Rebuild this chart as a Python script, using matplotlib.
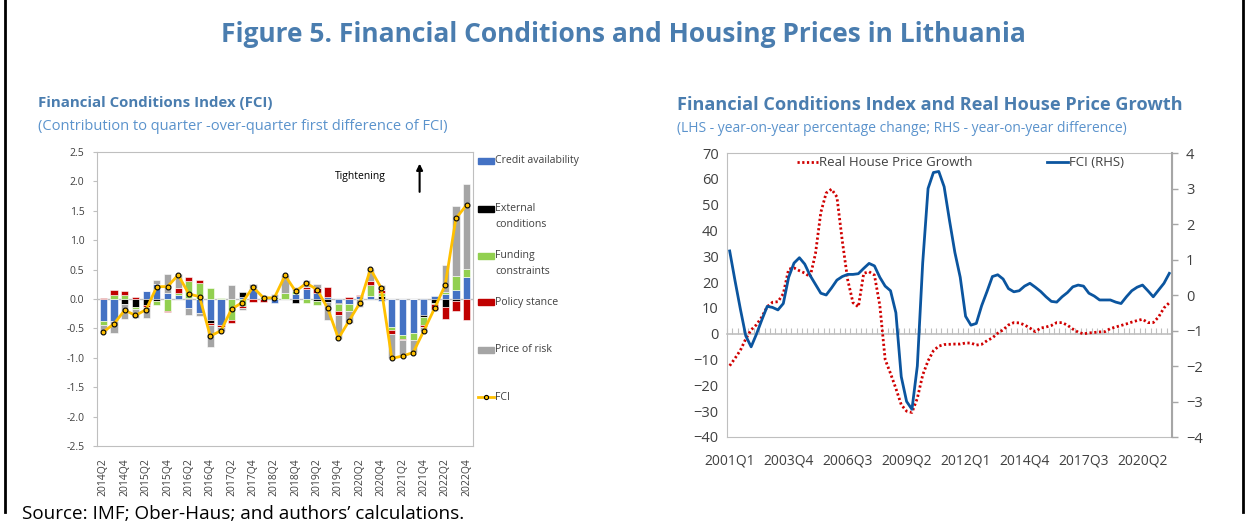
import matplotlib.pyplot as plt
import numpy as np
from matplotlib.lines import Line2D
from matplotlib.patches import Rectangle

plt.rcParams['font.family'] = ['Open Sans', 'DejaVu Sans']

# ---- left panel data: FCI contributions, 2014Q2 - 2022Q4
bar_quarters = [f"{2014 + (i + 1) // 4}Q{(i + 1) % 4 + 1}" for i in range(35)]

credit = [-0.37, -0.37, 0.00, 0.00, 0.14, 0.25, 0.11, 0.06, -0.15, -0.24,
          -0.36, -0.44, 0.00, 0.04, 0.18, 0.00, -0.07, 0.00, 0.09, 0.17,
          0.10, 0.03, -0.06, -0.09, 0.05, 0.05, -0.04, -0.47, -0.61, -0.58,
          -0.28, 0.05, 0.085, 0.16, 0.38]
external = [0.00, 0.00, -0.08, -0.13, -0.10, -0.03, 0.00, 0.00, 0.01, 0.00,
            -0.04, 0.00, 0.00, 0.08, 0.00, 0.00, 0.00, 0.00, -0.07, 0.00,
            -0.03, -0.05, -0.02, 0.00, 0.00, 0.00, 0.05, 0.00, 0.00, 0.00,
            -0.03, -0.06, -0.13, -0.03, 0.00]
funding = [-0.08, 0.07, 0.06, -0.04, 0.00, -0.08, -0.20, 0.05, 0.29, 0.28,
           0.19, 0.01, -0.36, -0.12, 0.00, 0.03, 0.03, 0.11, 0.04, -0.06,
           -0.08, 0.00, -0.12, -0.12, 0.00, 0.19, 0.05, -0.06, -0.07, -0.11,
           -0.13, -0.02, 0.04, 0.23, 0.13]
policy = [0.01, 0.08, 0.08, 0.04, -0.03, 0.00, -0.02, 0.085, 0.07, 0.045,
          -0.045, -0.03, -0.05, -0.03, -0.05, -0.05, 0.00, 0.00, 0.00, 0.04,
          0.085, 0.17, -0.08, 0.04, 0.02, 0.07, 0.06, -0.06, -0.02, 0.00,
          -0.03, -0.10, -0.21, -0.18, -0.35]
risk = [-0.10, -0.21, -0.26, -0.15, -0.19, 0.07, 0.31, 0.23, -0.13, -0.05,
        -0.375, -0.08, 0.23, -0.03, 0.07, 0.04, 0.06, 0.30, 0.08, 0.11,
        0.07, -0.31, -0.40, -0.20, -0.14, 0.20, 0.07, -0.42, -0.29, -0.21,
        -0.07, -0.03, 0.46, 1.19, 1.44]
fci_q = [-0.56, -0.42, -0.19, -0.28, -0.18, 0.21, 0.21, 0.41, 0.085, 0.04,
         -0.63, -0.54, -0.17, -0.06, 0.20, 0.02, 0.02, 0.40, 0.13, 0.27,
         0.16, -0.16, -0.67, -0.37, -0.07, 0.51, 0.19, -1.01, -0.97, -0.91,
         -0.54, -0.16, 0.24, 1.37, 1.60]

components = [("Credit availability", credit, "#4472C4"),
              ("External\nconditions", external, "#000000"),
              ("Funding\nconstraints", funding, "#92D050"),
              ("Policy stance", policy, "#C00000"),
              ("Price of risk", risk, "#A5A5A5")]

# ---- right panel data: 2001Q1 - 2021Q3
line_quarters = [f"{2001 + i // 4}Q{i % 4 + 1}" for i in range(83)]

house_growth = [-12.4, -9.5, -6.4, -2.0, 1.5, 3.5, 6.5, 10.5, 12.2, 12.4,
                15.5, 25.0, 25.5, 24.4, 23.5, 22.0, 31.0, 47.0, 54.5, 56.0,
                53.0, 36.0, 21.0, 12.0, 10.4, 23.4, 24.0, 22.7, 11.0, -10.0,
                -15.4, -21.2, -27.5, -30.0, -30.5, -25.0, -16.0, -10.5, -6.6, -4.8,
                -4.2, -4.1, -4.0, -4.0, -3.6, -3.6, -4.4, -4.1, -2.7, -1.6,
                0.2, 1.5, 3.4, 4.3, 4.2, 3.4, 2.2, 0.8, 2.2, 2.6,
                3.2, 4.3, 4.3, 3.3, 1.8, 0.6, -0.05, 0.3, 0.5, 0.7,
                0.8, 2.0, 2.6, 3.2, 3.8, 4.5, 5.1, 5.6, 4.3, 4.3,
                6.5, 10.0, 12.0]
fci_yoy = [1.24, 0.40, -0.40, -1.15, -1.46, -1.10, -0.70, -0.32, -0.35, -0.42,
           -0.24, 0.50, 0.90, 1.05, 0.87, 0.55, 0.30, 0.05, 0.00, 0.20,
           0.42, 0.52, 0.58, 0.58, 0.60, 0.75, 0.89, 0.82, 0.50, 0.25,
           0.12, -0.50, -2.30, -3.00, -3.22, -2.00, 0.90, 3.00, 3.45, 3.48,
           3.05, 2.10, 1.20, 0.50, -0.60, -0.85, -0.80, -0.30, 0.10, 0.52,
           0.57, 0.45, 0.18, 0.09, 0.12, 0.25, 0.33, 0.22, 0.10, -0.05,
           -0.18, -0.20, -0.05, 0.07, 0.23, 0.28, 0.25, 0.05, -0.03, -0.14,
           -0.14, -0.14, -0.20, -0.24, -0.05, 0.12, 0.22, 0.28, 0.12, -0.05,
           0.14, 0.33, 0.61]

W, H = 1247, 523
fig = plt.figure(figsize=(W / 100, H / 100), dpi=100)
grey = "#BFBFBF"
txt = "#404040"


def fx(px):
    return px / W


def fy(py):
    return 1 - py / H


# frame lines and titles
fig.add_artist(Line2D([fx(5), fx(5)], [fy(0), fy(512)], color="black", lw=2))
fig.add_artist(Line2D([fx(1243), fx(1243)], [fy(0), fy(512)], color="black", lw=2))
fig.text(0.5, fy(35), "Figure 5. Financial Conditions and Housing Prices in Lithuania",
         ha="center", va="center", fontsize=19, fontweight="bold", color="#4A7DAF")
fig.text(fx(38), fy(103), "Financial Conditions Index (FCI)", ha="left", va="center",
         fontsize=10.8, fontweight="bold", color="#4A7DAF")
fig.text(fx(38), fy(126), "(Contribution to quarter -over-quarter first difference of FCI)",
         ha="left", va="center", fontsize=10.5, color="#5B93CC")
fig.text(fx(677), fy(105), "Financial Conditions Index and Real House Price Growth",
         ha="left", va="center", fontsize=13.1, fontweight="bold", color="#4A7DAF")
fig.text(fx(677), fy(128), "(LHS - year-on-year percentage change; RHS - year-on-year difference)",
         ha="left", va="center", fontsize=10, color="#5B93CC")
fig.text(fx(22), fy(514), "Source: IMF; Ober-Haus; and authors\u2019 calculations.",
         ha="left", va="center", fontsize=13.6, color="black")

# ---- left panel
ax = fig.add_axes([fx(97), fy(446), fx(473) - fx(97), fy(152) - fy(446)])
x = np.arange(len(bar_quarters))
pos = np.zeros(len(x))
neg = np.zeros(len(x))
for name, vals, col in components:
    v = np.array(vals)
    bottom = np.where(v >= 0, pos, neg)
    ax.bar(x, v, 0.68, bottom=bottom, color=col, edgecolor="white", linewidth=0.4, zorder=2)
    pos = pos + np.where(v >= 0, v, 0)
    neg = neg + np.where(v < 0, v, 0)
ax.plot(x, fci_q, color="#FFC000", lw=2, marker="o", ms=3.5, mfc="#FFC000",
        mec="black", mew=0.8, zorder=4)
ax.axhline(0, color=grey, lw=1, zorder=1)
ax.set_xlim(-0.6, len(x) - 0.4)
ax.set_ylim(-2.5, 2.5)
ax.set_yticks(np.arange(-2.5, 2.51, 0.5))
ax.set_yticklabels([f"{t:.1f}" for t in np.arange(-2.5, 2.51, 0.5)])
ax.set_xticks(x[::2])
ax.set_xticklabels(bar_quarters[::2], rotation=90)
ax.tick_params(axis="y", labelsize=7.5, colors=txt, length=3, color=grey, pad=6)
ax.tick_params(axis="x", labelsize=7.5, colors=txt, length=0, pad=9)
for s in ax.spines.values():
    s.set_color(grey)

ax.text(0.70, 0.915, "Tightening", transform=ax.transAxes, fontsize=7.5,
        color="black", ha="center", va="center")
ax.annotate("", xy=(0.858, 0.97), xytext=(0.858, 0.855), xycoords="axes fraction",
            arrowprops=dict(arrowstyle="-|>", color="black", lw=1.5, mutation_scale=9))

# left legend drawn by hand
leg_y = [161, 208.5, 255.5, 302, 350]
for (name, vals, col), yy in zip(components, leg_y):
    fig.add_artist(Rectangle((fx(478), fy(yy + 3)), fx(16), 6 / H, color=col))
    lines = name.split("\n")
    for k, part in enumerate(lines):
        fig.text(fx(495), fy(yy + 16 * k), part, ha="left", va="center",
                 fontsize=7.6, color=txt)
fig.add_artist(Line2D([fx(478), fx(494)], [fy(397), fy(397)], color="#FFC000", lw=2))
fig.add_artist(Line2D([fx(486)], [fy(397)], marker="o", ms=3, mfc="#FFC000", mec="black",
                      mew=0.8, ls="none"))
fig.text(fx(495), fy(397), "FCI", ha="left", va="center", fontsize=7.6, color=txt)

# ---- right panel
ax2 = fig.add_axes([fx(727), fy(437), fx(1172) - fx(727), fy(153) - fy(437)])
xr = np.arange(len(line_quarters))
l1, = ax2.plot(xr, house_growth, color="#D00000", lw=2, ls=(0, (0.8, 0.9)),
               dash_capstyle="butt", label="Real House Price Growth")
ax2.set_ylim(-40, 70)
ax2.set_xlim(-0.5, len(xr) - 0.5)
ax2.set_yticks(np.arange(-40, 71, 10))
ax2.set_xticks(xr[::11])
ax2.set_xticklabels(line_quarters[::11])
ax2.tick_params(axis="y", labelsize=10.5, colors=txt, length=0, pad=6)
ax2.tick_params(axis="x", labelsize=10, colors=txt, length=0, pad=12)
for s in ax2.spines.values():
    s.set_color(grey)

# category axis crossing at zero
sec = ax2.secondary_xaxis(40 / 110)
sec.set_xticks(np.arange(len(xr) + 1) - 0.5)
sec.tick_params(axis="x", direction="in", length=4, color=grey, labelbottom=False)
sec.spines["bottom"].set_color(grey)
sec.spines["bottom"].set_linewidth(1.2)

ax3 = ax2.twinx()
l2, = ax3.plot(xr, fci_yoy, color="#0B559F", lw=2, label="FCI (RHS)")
ax3.set_ylim(-4, 4)
ax3.set_yticks(np.arange(-4, 5, 1))
ax3.tick_params(axis="y", labelsize=10.5, colors=txt, length=4, color="#A6A6A6", width=1, pad=6)
ax3.spines["right"].set_color("#A6A6A6")
ax3.spines["right"].set_linewidth(1.5)
for k in ["left", "top", "bottom"]:
    ax3.spines[k].set_visible(False)

ax2.legend([l1, l2], ["Real House Price Growth", "FCI (RHS)"], loc="upper left",
           bbox_to_anchor=(0.13, 1.03), ncol=2, frameon=False, fontsize=9.5,
           handlelength=1.6, handletextpad=0.1, columnspacing=5.6,
           labelcolor=txt)

fig.savefig("out.png", dpi=100)
